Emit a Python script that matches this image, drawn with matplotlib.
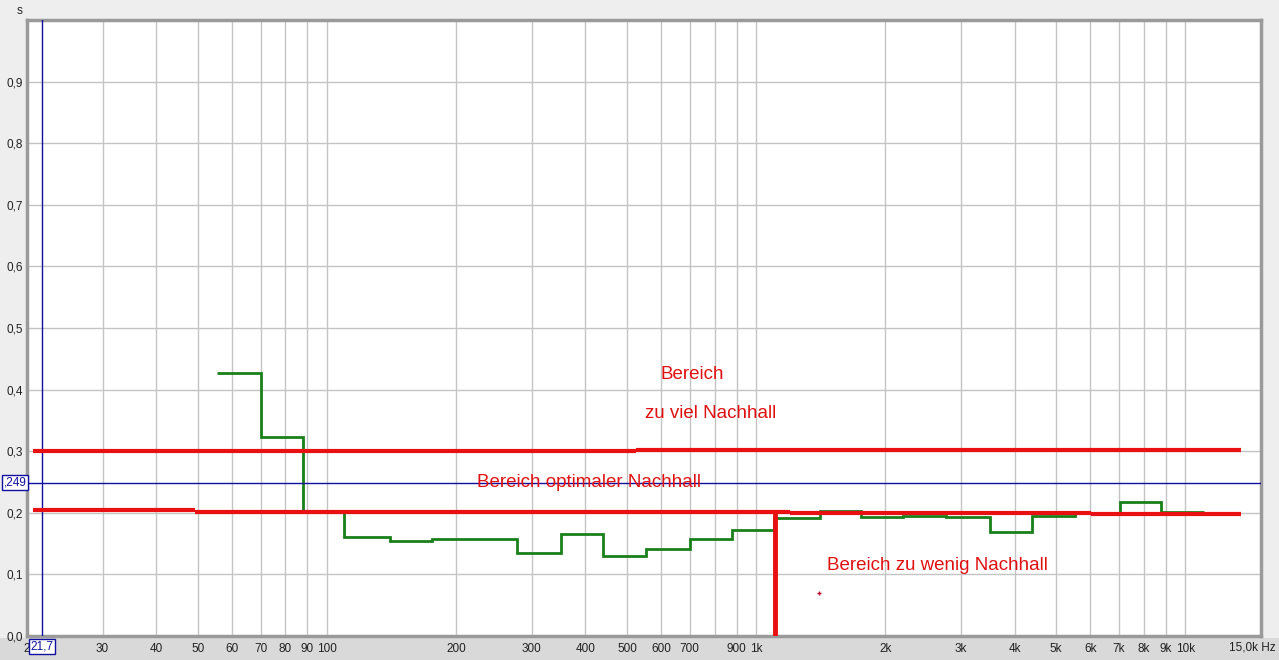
import numpy as np
import matplotlib
matplotlib.use("Agg")
import matplotlib.pyplot as plt
from matplotlib.patches import Rectangle

# Third-octave band centres (Hz) and RT60 values (s)
band_centres = [63, 80, 100, 125, 160, 200, 250, 315, 400, 500, 630, 800,
                1000, 1250, 1600, 2000, 2500, 3150, 4000, 5000, 6300, 8000, 10000]
rt60 = [0.427, 0.323, 0.203, 0.161, 0.154, 0.158, 0.158, 0.135, 0.165, 0.130,
        0.142, 0.157, 0.172, 0.191, 0.203, 0.193, 0.195, 0.193, 0.169, 0.194,
        0.199, 0.217, 0.202]

# Hand-drawn red annotation lines (freq breakpoints, level)
upper_freqs = [20.6, 525, 13500]
upper_vals = [0.300, 0.302]
lower_freqs = [20.6, 49.2, 243, 1200, 6040, 13500]
lower_vals = [0.204, 0.202, 0.201, 0.199, 0.198]
vert_freq = 1106
vert_range = [0.0, 0.201]
dot_point = (1400, 0.070)

cursor_freq = 21.7
cursor_val = 0.249

x_ticks = [20, 30, 40, 50, 60, 70, 80, 90, 100, 200, 300, 400, 500, 600, 700, 800,
           900, 1000, 2000, 3000, 4000, 5000, 6000, 7000, 8000, 9000, 10000]
x_labels = ["2", "30", "40", "50", "60", "70", "80", "90", "100", "200", "300", "400",
            "500", "600", "700", "", "900", "1k", "2k", "3k", "4k", "5k", "6k", "7k",
            "8k", "9k", "10k"]
y_ticks = [0.0, 0.1, 0.2, 0.3, 0.4, 0.5, 0.6, 0.7, 0.8, 0.9]
y_labels = ["0,0", "0,1", "0,2", "0,3", "0,4", "0,5", "0,6", "0,7", "0,8", "0,9"]

texts = [
    ("Bereich", 600, 0.424),
    ("zu viel Nachhall", 550, 0.362),
    ("Bereich optimaler Nachhall", 224, 0.249),
    ("Bereich zu wenig Nachhall", 1463, 0.115),
]

plt.rcParams['font.family'] = ['Liberation Sans', 'DejaVu Sans']

W, H = 1279, 660
fig = plt.figure(figsize=(W / 100, H / 100), dpi=100, facecolor="#eeeeee")
# bottom strip
fig.patches.append(Rectangle((0, 0), 1, 22 / H, transform=fig.transFigure,
                             facecolor="#d9d9d9", edgecolor="none", zorder=-5))
left, right, top, bottom = 27, 1261, 20, 636
ax = fig.add_axes([left / W, 1 - bottom / H, (right - left) / W, (bottom - top) / H])
ax.set_zorder(2)
ax.set_facecolor("white")
ax.set_xscale("log")
ax.set_xlim(20, 15000)
ax.set_ylim(0, 1.0)

ax.set_xticks(x_ticks)
ax.set_xticklabels(x_labels)
ax.xaxis.set_minor_locator(matplotlib.ticker.NullLocator())
ax.set_yticks(y_ticks)
ax.set_yticklabels(y_labels)
ax.tick_params(axis="both", length=0, labelsize=8.5, colors="#222222")
ax.tick_params(axis="x", pad=5)
ax.tick_params(axis="y", pad=3)
ax.grid(True, color="#c4c4c4", linewidth=1.0)
ax.set_axisbelow(True)
for s in ax.spines.values():
    s.set_color("#9a9a9a")
    s.set_linewidth(2.5)

fig.text(20 / W, 1 - 11 / H, "s", fontsize=8.5, color="#222222", ha="center", va="center")
fig.text(1276 / W, 1 - 647 / H, "15,0k Hz", fontsize=8.5, color="#222222",
         ha="right", va="center")

# green step line
c = np.array(band_centres, dtype=float)
edges = np.concatenate([c / 2 ** (1 / 6), [c[-1] * 2 ** (1 / 6)]]) * 0.986
ax.stairs(rt60, edges, color="#1a801a", linewidth=2.0, baseline=None, zorder=3)

# blue cursor
ax.axvline(cursor_freq, color="#1010a0", linewidth=1.0, zorder=4)
ax.axhline(cursor_val, color="#1010a0", linewidth=1.0, zorder=4)
ax.text(cursor_freq, -0.017, "21,7", color="#1010a0", fontsize=8.5, ha="center", va="center",
        transform=ax.get_xaxis_transform(), clip_on=False, zorder=6,
        bbox=dict(boxstyle="square,pad=0.15", facecolor="white", edgecolor="#1010a0", linewidth=1))
ax.text(-0.0005, cursor_val, ",249", color="#1010a0", fontsize=8.5, ha="right", va="center",
        transform=ax.get_yaxis_transform(), clip_on=False, zorder=6,
        bbox=dict(boxstyle="square,pad=0.15", facecolor="white", edgecolor="#1010a0", linewidth=1))

# red annotations
red = "#e81010"
for i in range(len(upper_vals)):
    ax.plot(upper_freqs[i:i + 2], [upper_vals[i]] * 2, color=red, linewidth=3, zorder=5,
            solid_capstyle="butt")
for i in range(len(lower_vals)):
    ax.plot(lower_freqs[i:i + 2], [lower_vals[i]] * 2, color=red, linewidth=3, zorder=5,
            solid_capstyle="butt")
ax.plot([vert_freq, vert_freq], vert_range, color=red, linewidth=3.5, zorder=5)
ax.plot([dot_point[0]], [dot_point[1]], marker="+", color="#c01030", markersize=3,
        markeredgewidth=1, zorder=5)
for t, fx, fy in texts:
    ax.text(fx, fy, t, color="#e01010", fontsize=13.5, ha="left", va="center", zorder=6)

fig.savefig("out.png", dpi=100, facecolor=fig.get_facecolor())
